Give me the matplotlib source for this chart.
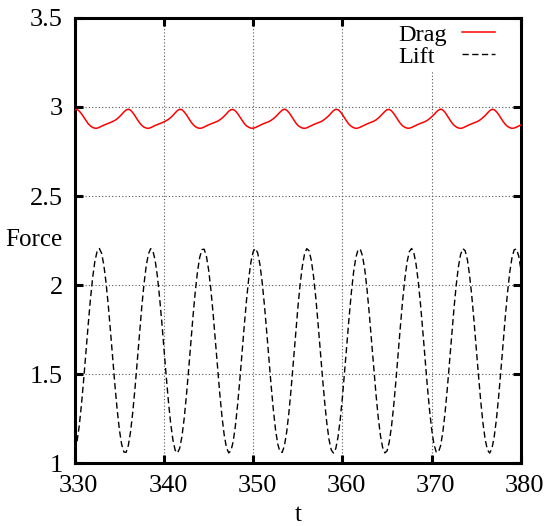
import numpy as np
import matplotlib
matplotlib.use("Agg")
import matplotlib.pyplot as plt
import matplotlib.transforms as mtransforms

# sample times (every 0.25)
t = np.linspace(330, 380, 201)

lift = [
    1.071, 1.123, 1.212, 1.332, 1.473, 1.625, 1.778, 1.920, 2.042, 2.134,
    2.190, 2.206, 2.180, 2.115, 2.015, 1.888, 1.742, 1.588, 1.437, 1.301,
    1.188, 1.107, 1.064, 1.062, 1.101, 1.178, 1.289, 1.423, 1.573, 1.727,
    1.874, 2.004, 2.107, 2.175, 2.205, 2.193, 2.141, 2.053, 1.933, 1.793,
    1.640, 1.487, 1.345, 1.223, 1.131, 1.074, 1.058, 1.084, 1.148, 1.248,
    1.375, 1.521, 1.675, 1.826, 1.962, 2.075, 2.156, 2.200, 2.202, 2.163,
    2.086, 1.977, 1.842, 1.692, 1.538, 1.391, 1.261, 1.158, 1.089, 1.059,
    1.070, 1.122, 1.211, 1.330, 1.470, 1.622, 1.776, 1.918, 2.040, 2.133,
    2.189, 2.206, 2.181, 2.116, 2.017, 1.890, 1.744, 1.590, 1.440, 1.303,
    1.189, 1.108, 1.065, 1.062, 1.100, 1.177, 1.286, 1.421, 1.570, 1.724,
    1.872, 2.002, 2.105, 2.175, 2.205, 2.194, 2.142, 2.054, 1.936, 1.795,
    1.643, 1.490, 1.347, 1.225, 1.132, 1.075, 1.058, 1.083, 1.147, 1.246,
    1.373, 1.519, 1.672, 1.823, 1.960, 2.074, 2.155, 2.199, 2.202, 2.164,
    2.088, 1.979, 1.844, 1.695, 1.541, 1.393, 1.263, 1.159, 1.090, 1.059,
    1.070, 1.121, 1.209, 1.327, 1.468, 1.620, 1.773, 1.916, 2.039, 2.132,
    2.189, 2.206, 2.182, 2.118, 2.019, 1.892, 1.747, 1.593, 1.442, 1.305,
    1.191, 1.109, 1.065, 1.062, 1.099, 1.175, 1.284, 1.418, 1.568, 1.722,
    1.869, 2.000, 2.104, 2.174, 2.205, 2.194, 2.144, 2.056, 1.938, 1.797,
    1.645, 1.492, 1.349, 1.226, 1.133, 1.076, 1.058, 1.082, 1.146, 1.244,
    1.371, 1.516, 1.670, 1.821, 1.958, 2.072, 2.154, 2.199, 2.203, 2.165,
    2.089,
]

drag = [
    2.985, 2.986, 2.977, 2.962, 2.943, 2.924, 2.906, 2.894, 2.885, 2.881,
    2.881, 2.886, 2.892, 2.898, 2.903, 2.908, 2.913, 2.919, 2.925, 2.934,
    2.945, 2.958, 2.972, 2.983, 2.988, 2.982, 2.968, 2.950, 2.930, 2.912,
    2.897, 2.887, 2.882, 2.880, 2.884, 2.890, 2.896, 2.901, 2.906, 2.911,
    2.917, 2.923, 2.931, 2.941, 2.953, 2.967, 2.980, 2.987, 2.985, 2.973,
    2.957, 2.937, 2.918, 2.902, 2.890, 2.883, 2.880, 2.882, 2.888, 2.894,
    2.900, 2.905, 2.910, 2.915, 2.920, 2.928, 2.937, 2.949, 2.962, 2.976,
    2.985, 2.986, 2.978, 2.963, 2.944, 2.924, 2.907, 2.894, 2.886, 2.881,
    2.881, 2.885, 2.891, 2.897, 2.903, 2.908, 2.913, 2.918, 2.925, 2.934,
    2.945, 2.958, 2.971, 2.982, 2.988, 2.982, 2.969, 2.951, 2.931, 2.912,
    2.897, 2.888, 2.882, 2.880, 2.883, 2.889, 2.895, 2.901, 2.906, 2.911,
    2.916, 2.922, 2.931, 2.941, 2.953, 2.967, 2.980, 2.987, 2.985, 2.974,
    2.957, 2.938, 2.918, 2.902, 2.891, 2.884, 2.880, 2.882, 2.887, 2.893,
    2.899, 2.905, 2.910, 2.915, 2.920, 2.927, 2.937, 2.949, 2.962, 2.975,
    2.985, 2.986, 2.978, 2.963, 2.945, 2.925, 2.907, 2.894, 2.886, 2.881,
    2.881, 2.885, 2.891, 2.897, 2.903, 2.908, 2.913, 2.918, 2.925, 2.934,
    2.945, 2.957, 2.971, 2.982, 2.988, 2.983, 2.970, 2.951, 2.931, 2.912,
    2.898, 2.888, 2.882, 2.880, 2.883, 2.889, 2.895, 2.901, 2.906, 2.911,
    2.916, 2.922, 2.930, 2.941, 2.952, 2.966, 2.979, 2.987, 2.985, 2.974,
    2.958, 2.938, 2.919, 2.903, 2.891, 2.884, 2.880, 2.882, 2.887, 2.893,
    2.899,
]

xticks = [330, 340, 350, 360, 370, 380]
yticks = [1, 1.5, 2, 2.5, 3, 3.5]
ytick_labels = ["1", "1.5", "2", "2.5", "3", "3.5"]

plt.rcParams["font.family"] = ["Liberation Serif", "DejaVu Serif"]

fig = plt.figure(figsize=(5.46, 5.26), dpi=100)
ax = fig.add_axes([0.137, 0.119, 0.817, 0.847])

ax.plot(t, drag, color="#ff0000", lw=1.1, label="Drag", zorder=3)
ax.plot(t, lift, color="black", lw=1.0, linestyle=(0, (4.5, 2.5)), label="Lift", zorder=3)

ax.set_xlim(330, 380)
ax.set_ylim(1, 3.5)
ax.set_xticks(xticks)
ax.set_yticks(yticks)
ax.set_yticklabels(ytick_labels)

ax.grid(True, color="#555555", linestyle=(0, (1, 2)), lw=0.8)
ax.set_axisbelow(True)

for s in ax.spines.values():
    s.set_linewidth(2.2)
ax.tick_params(direction="in", length=5.5, width=2.2, top=True, right=True,
               labelsize=19)
ax.tick_params(axis="x", pad=8)
ax.tick_params(axis="y", pad=8.5)

# nudge x tick labels a little to the right like the original
shift = mtransforms.ScaledTranslation(4 / 100, 0, fig.dpi_scale_trans)
for lab in ax.get_xticklabels():
    lab.set_transform(lab.get_transform() + shift)

ax.set_xlabel("t", fontsize=18, va="center")
ax.xaxis.set_label_coords(0.5, -0.115)
ax.set_ylabel("Force", fontsize=18, rotation=0, ha="center", va="center")
ax.yaxis.set_label_coords(-0.092, 0.502)

leg = ax.legend(loc="upper right", bbox_to_anchor=(0.95, 0.995), markerfirst=False,
                fontsize=17.5, handlelength=1.35, handletextpad=0.45, labelspacing=0.0,
                borderpad=0.15, borderaxespad=0, fancybox=False, framealpha=1)
leg.get_frame().set_edgecolor("white")
leg.get_frame().set_linewidth(0)

# gnuplot style key: labels left aligned, samples lined up on the right
try:
    for col in leg._legend_handle_box.get_children():
        for row in col.get_children():
            row.mode = "expand"
            row.width = 97
except AttributeError:
    pass

fig.savefig("out.png", dpi=100)
